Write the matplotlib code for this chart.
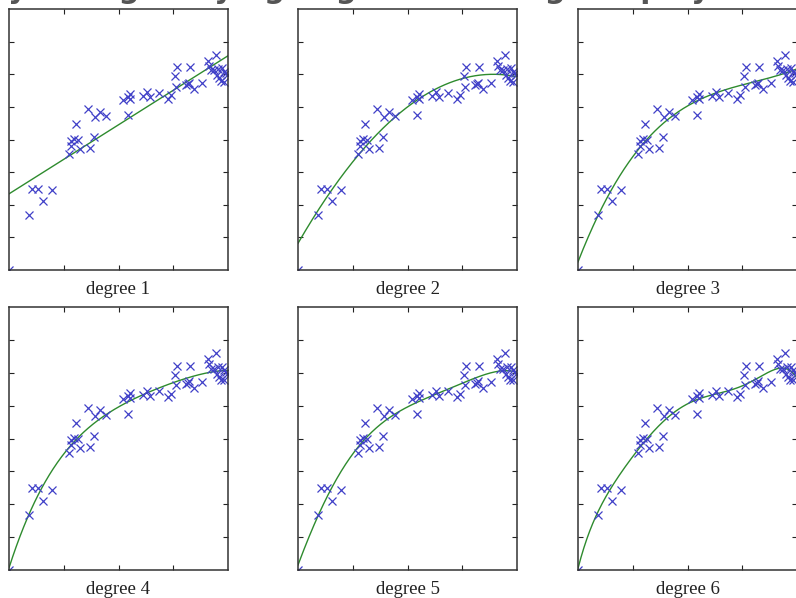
import numpy as np
import matplotlib
matplotlib.use("Agg")
import matplotlib.pyplot as plt

# Observations (same sample in every panel); the first one sits at the origin
x_obs = [0.000, 0.371, 0.429, 0.535, 0.616, 0.780, 1.096, 1.132, 1.132, 1.187,
         1.269, 1.224, 1.297, 1.434, 1.479, 1.549, 1.571, 1.662, 1.772, 2.091,
         2.179, 2.174, 2.210, 2.219, 2.447, 2.515, 2.584, 2.745, 2.904, 2.959,
         3.041, 3.063, 3.059, 3.233, 3.266, 3.288, 3.311, 3.383, 3.516, 3.631,
         3.772, 3.662, 3.690, 3.753, 3.823, 3.885, 3.936, 3.794, 3.830, 3.867,
         3.927, 3.958, 3.978]
y_obs = [0.000, 1.686, 2.483, 2.483, 2.106, 2.446, 3.556, 3.816, 3.963, 4.009,
         4.000, 4.466, 3.724, 4.929, 3.749, 4.086, 4.699, 4.858, 4.729, 5.205,
         4.760, 5.303, 5.389, 5.235, 5.327, 5.456, 5.303, 5.435, 5.251, 5.364,
         5.946, 6.207, 5.618, 5.670, 5.701, 5.747, 6.207, 5.533, 5.723, 6.421,
         6.605, 6.268, 6.115, 6.115, 6.161, 6.182, 6.084, 5.962, 5.870, 5.778,
         5.772, 6.029, 5.962]

degrees = [1, 2, 3, 4, 5, 6]
panel_labels = ["degree 1", "degree 2", "degree 3", "degree 4", "degree 5", "degree 6"]
title_text = "Overly fitting: varying degree of fitting the polynomial, by polyfit"

W, H = 796, 598
fig = plt.figure(figsize=(W / 100, H / 100), dpi=100)

col_left = [9, 298, 578]
row_top = [9, 307]
row_height = [261, 263]
panel_width = 219

x_arr = np.array(x_obs)
y_arr = np.array(y_obs)
x_grid = np.linspace(0, 4, 300)

for i, deg in enumerate(degrees):
    r, c = divmod(i, 3)
    left = col_left[c] / W
    bottom = (H - row_top[r] - row_height[r]) / H
    ax = fig.add_axes([left, bottom, panel_width / W, row_height[r] / H])

    coefs = np.polyfit(x_arr, y_arr, deg)
    ax.plot(x_grid, np.polyval(coefs, x_grid), color="#2e8b2e", lw=1.0)
    ax.plot(x_arr, y_arr, linestyle="none", marker="x", markersize=5.5,
            markeredgewidth=0.9, color="#4040c8")

    ax.set_xlim(0, 4)
    ax.set_ylim(0, 8)
    ax.set_xticks([1, 2, 3])
    ax.set_yticks(range(1, 8))
    ax.tick_params(direction="in", length=3.5, width=0.8, top=True, right=True,
                   labelbottom=False, labelleft=False, color="#222222")
    for s in ax.spines.values():
        s.set_linewidth(1.1)
        s.set_color("#333333")

    cx = (col_left[c] + panel_width / 2) / W
    base_y = (H - (row_top[r] + row_height[r] + 24)) / H
    fig.text(cx, base_y, panel_labels[i], ha="center", va="baseline",
             family="Liberation Serif", fontsize=13.5, color="#222222")

fig.text(-80 / W, 1 + 2.5 / H, title_text,
         ha="left", va="baseline", fontsize=21, fontweight="bold", color="#555555")

fig.savefig("out.png", dpi=100)
